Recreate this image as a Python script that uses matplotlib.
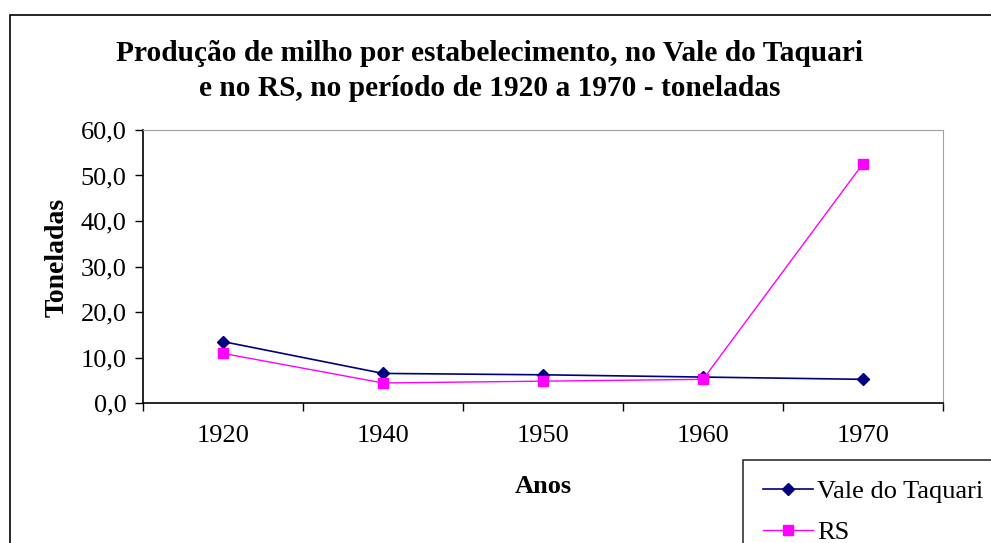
import matplotlib.pyplot as plt
from matplotlib.patches import Rectangle
from matplotlib.ticker import FixedLocator

plt.rcParams['font.family'] = 'serif'
plt.rcParams['font.serif'] = ['Liberation Serif', 'DejaVu Serif']
plt.rcParams['font.size'] = 19

anos = ['1920', '1940', '1950', '1960', '1970']
vale_taquari = [13.5, 6.5, 6.2, 5.7, 5.2]
rs = [10.9, 4.4, 4.8, 5.2, 52.6]
y_ticks = [0, 10, 20, 30, 40, 50, 60]
y_labels = ['0,0', '10,0', '20,0', '30,0', '40,0', '50,0', '60,0']

W, H = 991, 543
fig = plt.figure(figsize=(W / 100, H / 100), dpi=100)
ax = fig.add_axes([143 / W, 1 - 403 / H, 800 / W, 273 / H])

# outer chart frame (runs off the right and bottom edges)
fig.patches.append(Rectangle((10 / W, -0.1), 1.2, 1 - 15 / H + 0.1,
                             transform=fig.transFigure, fill=False,
                             edgecolor='black', linewidth=1.2))

x = list(range(len(anos)))
ax.plot(x, vale_taquari, color='#000080', marker='D', markersize=6,
        linewidth=1.2, label='Vale do Taquari')
ax.plot(x, rs, color='#FF00FF', marker='s', markersize=7,
        linewidth=1.0, label='RS')

ax.set_xlim(-0.5, len(anos) - 0.5)
ax.set_ylim(0, 60)

# Excel style category axis: ticks between categories, labels centred
ax.xaxis.set_major_locator(FixedLocator([i - 0.5 for i in range(len(anos) + 1)]))
ax.xaxis.set_major_formatter(plt.NullFormatter())
ax.xaxis.set_minor_locator(FixedLocator(x))
ax.set_xticklabels(anos, minor=True)
ax.tick_params(axis='x', which='major', direction='out', length=5.5, width=1)
ax.tick_params(axis='x', which='minor', length=0, pad=16)

ax.set_yticks(y_ticks)
ax.set_yticklabels(y_labels)
ax.tick_params(axis='y', direction='out', length=5.8, width=1, pad=6)

for side in ['top', 'right']:
    ax.spines[side].set_color('#a0a0a0')
for side in ['left', 'bottom']:
    ax.spines[side].set_color('black')
    ax.spines[side].set_linewidth(1.2)

ax.set_ylabel('Toneladas', fontweight='bold', fontsize=20)
ax.yaxis.set_label_coords(-0.092, 0.535)
ax.set_xlabel('Anos', fontweight='bold')
ax.xaxis.set_label_coords(0.5, -0.265)

fig.text(490 / W, 1 - 71 / H,
         'Produção de milho por estabelecimento, no Vale do Taquari\n'
         'e no RS, no período de 1920 a 1970 - toneladas',
         ha='center', va='center', fontsize=21.2, fontweight='bold',
         linespacing=1.35)

leg = fig.legend(loc='upper left', bbox_to_anchor=(743 / W, 1 - 460 / H),
                 frameon=True, fancybox=False, edgecolor='black',
                 handlelength=1.9, handletextpad=0.15, borderpad=0.75,
                 labelspacing=0.65, borderaxespad=0)
leg.get_frame().set_linewidth(1.2)

fig.savefig('out.png', dpi=100)
